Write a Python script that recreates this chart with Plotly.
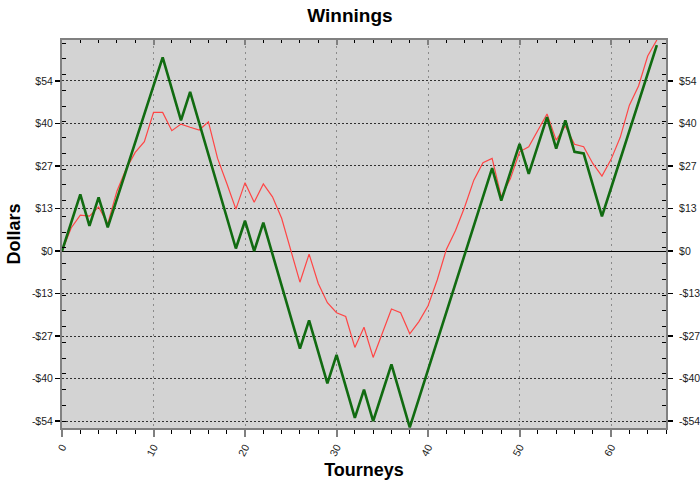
import plotly.graph_objects as go

tourneys = list(range(0, 66))

winnings = [0, 9, 18, 8, 17, 7.5, 16.5, 25.5, 34.5, 43.5, 52.5, 61.5, 51.5, 41.5, 50.5,
            40.5, 30.5, 20.5, 10.5, 0.8, 9.6, 0, 9, -1, -11, -21, -31, -22, -32, -42,
            -33, -43, -53, -44, -54, -45, -36, -46, -56, -46.9, -37.7, -28.6, -19.4, -10.3,
            -1.2, 7.9, 17.1, 26.3, 16, 25, 34, 24.5, 33.5, 42.5, 32.5, 41.5, 31.5, 31,
            21, 11, 20, 29, 38, 47, 56, 65.4]

trend = [0, 7.3, 11.4, 11.1, 14, 8.6, 19, 26, 31.3, 34.7, 44, 44, 38.2, 40.3, 39.3,
         38.4, 41, 29.4, 21.5, 13.3, 21.7, 15.5, 21.3, 17.2, 10.4, 0.3, -9.9, -1, -10.3,
         -16.4, -19.6, -20.8, -30.6, -24.2, -33.8, -26.1, -18.4, -19.6, -26.3, -22.4,
         -17.4, -9.2, 0.5, 6.5, 14, 22.5, 28, 29.4, 17.2, 23, 31.5, 33.1, 38.2, 43.5,
         35.2, 39.7, 33.9, 33.1, 27.8, 23.8, 29.1, 36.1, 46.3, 52.4, 61.9, 67]

y_tick_vals = [-54, -40.5, -27, -13.5, 0, 13.5, 27, 40.5, 54]
y_tick_text = ["-$54", "-$40", "-$27", "-$13", "$0", "$13", "$27", "$40", "$54"]

X_RANGE = [0, 66]
Y_RANGE = [-56.2, 67.0]

fig = go.Figure()
fig.add_trace(go.Scatter(x=tourneys, y=trend, mode="lines",
                         line=dict(color="#ff4545", width=1.2),
                         showlegend=False, hoverinfo="skip"))
fig.add_trace(go.Scatter(x=tourneys, y=winnings, mode="lines",
                         line=dict(color="#116b11", width=2.6),
                         showlegend=False, hoverinfo="skip"))
# invisible copy to bring top/right axes to life
fig.add_trace(go.Scatter(x=tourneys, y=winnings, mode="lines", xaxis="x2", yaxis="y2",
                         opacity=0, showlegend=False, hoverinfo="skip"))

tickfont = dict(family="Liberation Sans, Arial, sans-serif", size=10.5, color="#222")
FONT = "Liberation Sans, Arial, sans-serif"

fig.update_layout(
    width=700, height=480,
    margin=dict(l=62, r=34, t=40, b=52, autoexpand=False),
    paper_bgcolor="white",
    plot_bgcolor="#d3d3d3",
    title=dict(text="<b>Winnings</b>", x=0.5, xanchor="center", y=0.968, yanchor="middle",
               font=dict(family=FONT, size=19, color="black")),
    xaxis=dict(
        range=X_RANGE, tick0=0, dtick=10, tickangle=-62, automargin=False,
        showline=True, linecolor="#808080", linewidth=2,
        ticks="outside", ticklen=7, tickwidth=2, tickcolor="#808080",
        tickfont=tickfont,
        showgrid=True, gridcolor="#8a8a8a", gridwidth=1, griddash="2px,4px",
        zeroline=False,
        minor=dict(dtick=2, ticks="outside", ticklen=4, tickwidth=1, tickcolor="black",
                   showgrid=False),
        title=dict(text="<b>Tourneys</b>", standoff=8,
                   font=dict(family=FONT, size=18, color="black")),
    ),
    xaxis2=dict(
        range=X_RANGE, overlaying="x", side="top", tick0=0, dtick=10, automargin=False,
        showline=True, linecolor="#808080", linewidth=2,
        ticks="inside", ticklen=5, tickwidth=2, tickcolor="#808080",
        showticklabels=False, showgrid=False, zeroline=False,
        minor=dict(dtick=2, ticks="inside", ticklen=3, tickwidth=1, tickcolor="black",
                   showgrid=False),
    ),
    yaxis=dict(
        range=Y_RANGE, tickvals=y_tick_vals, ticktext=y_tick_text, automargin=False,
        showline=True, linecolor="#808080", linewidth=2,
        ticks="outside", ticklen=5, tickwidth=1.5, tickcolor="black",
        tickfont=tickfont,
        showgrid=True, gridcolor="#303030", gridwidth=1, griddash="2px,2px",
        zeroline=True, zerolinecolor="black", zerolinewidth=1,
        minor=dict(tick0=1, dtick=5, ticks="inside", ticklen=4, tickwidth=1,
                   tickcolor="black", showgrid=False),
        title=dict(text="<b>Dollars</b>", standoff=7,
                   font=dict(family=FONT, size=18, color="black")),
    ),
    yaxis2=dict(
        range=Y_RANGE, overlaying="y", side="right", automargin=False,
        tickvals=y_tick_vals, ticktext=y_tick_text,
        showline=True, linecolor="#808080", linewidth=2,
        ticks="outside", ticklen=5, tickwidth=1.5, tickcolor="black",
        ticklabelstandoff=4,
        tickfont=tickfont, showgrid=False, zeroline=False,
        minor=dict(tick0=1, dtick=5, ticks="inside", ticklen=4, tickwidth=1,
                   tickcolor="black", showgrid=False),
    ),
)

fig.write_html("out.html",
               config={"displayModeBar": False, "staticPlot": True},
               post_script="document.body.style.margin='0';document.body.style.overflow='hidden';")
